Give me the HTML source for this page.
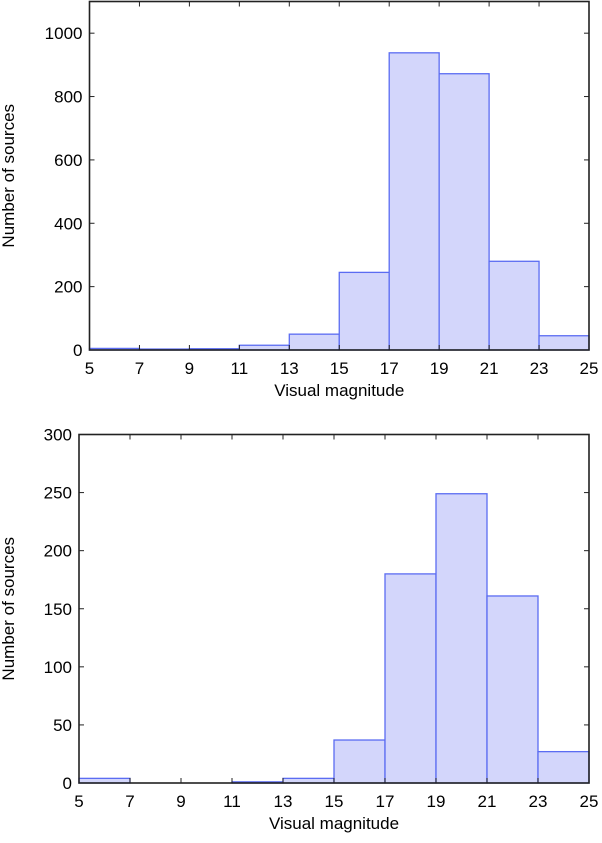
<!DOCTYPE html>
<html><head><meta charset="utf-8"><style>
body{margin:0;background:#fff;}
svg text{font-family:"Liberation Sans",Arial,sans-serif;font-size:17px;fill:#000;}
</style></head><body>
<svg id="svg" width="602" height="838" xmlns="http://www.w3.org/2000/svg"></svg>
<script>
const binEdges=[5,7,9,11,13,15,17,19,21,23,25];
const xTickLabels=[5,7,9,11,13,15,17,19,21,23,25];
const topCounts=[5,3,4,15,50,245,938,872,280,45];
const topYTicks=[0,200,400,600,800,1000];
const bottomCounts=[4,0,0,1,4,37,180,249,161,27];
const bottomYTicks=[0,50,100,150,200,250,300];
const NS="http://www.w3.org/2000/svg";
const svg=document.getElementById('svg');
function mk(tag,attrs,parent){const e=document.createElementNS(NS,tag);for(const k in attrs)e.setAttribute(k,attrs[k]);(parent||svg).appendChild(e);return e;}
function chart(name,L,R,T,B,yMax,counts,yTicks,yLabelX){
  const g=mk('g',{});
  
  
  const xs=v=>L+(v-5)/(25-5)*(R-L);
  const ys=v=>B-v/yMax*(B-T);
  counts.forEach((c,i)=>{
    const x0=xs(binEdges[i]),x1=xs(binEdges[i+1]),y=ys(c);
    const r=mk('rect',{x:x0,y:y,width:x1-x0,height:B-y,fill:'#d3d6fb',stroke:'#5b6cf2','stroke-width':1.3},g);
    
    
  });
  const f=mk('rect',{x:L,y:T,width:R-L,height:B-T,fill:'none',stroke:'#222','stroke-width':1.6},g);
  
  
  xTickLabels.forEach(v=>{
    const x=xs(v);
    mk('line',{x1:x,x2:x,y1:B,y2:B-5,stroke:'#222','stroke-width':1},g);
    mk('line',{x1:x,x2:x,y1:T,y2:T+5,stroke:'#222','stroke-width':1},g);
    const t=mk('text',{x:x,y:B+24,'text-anchor':'middle'},g);t.textContent=v;
    
    
  });
  yTicks.forEach(v=>{
    const y=ys(v);
    mk('line',{x1:L,x2:L+5,y1:y,y2:y,stroke:'#222','stroke-width':1},g);
    mk('line',{x1:R,x2:R-5,y1:y,y2:y,stroke:'#222','stroke-width':1},g);
    const t=mk('text',{x:L-7,y:y+6,'text-anchor':'end'},g);t.textContent=v;
    
    
  });
  const xt=mk('text',{x:(L+R)/2,y:B+46,'text-anchor':'middle'},g);xt.textContent='Visual magnitude';
  
  
  const yt=mk('text',{x:0,y:0,'text-anchor':'middle',transform:`translate(${yLabelX},${(T+B)/2}) rotate(-90)`},g);yt.textContent='Number of sources';
  
  
}
chart('top-histogram',89.5,589,1.5,350,1100,topCounts,topYTicks,14);
chart('bottom-histogram',79,589,434.5,783,300,bottomCounts,bottomYTicks,14);
</script>
</body></html>
